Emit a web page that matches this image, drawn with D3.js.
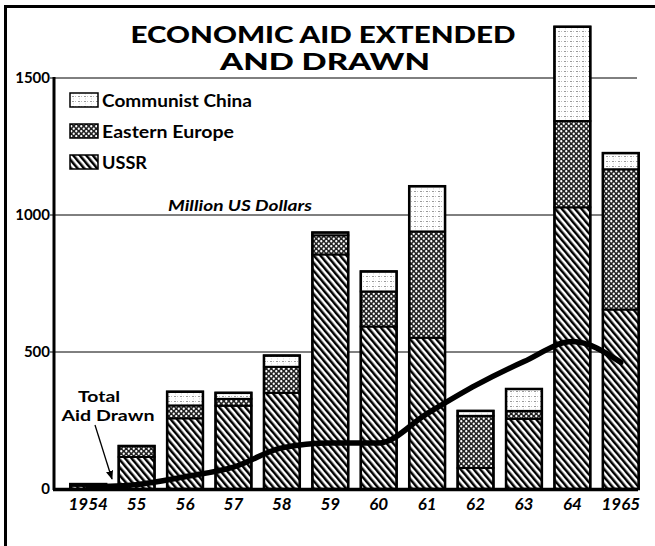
<!DOCTYPE html>
<html><head><meta charset="utf-8">
<script src="https://cdn.jsdelivr.net/npm/d3@7"></script>
<style>body{margin:0;background:#fff}svg{display:block}text{font-family:Lato,"DejaVu Sans",sans-serif}</style>
</head><body>
<script>
const years = ["1954","55","56","57","58","59","60","61","62","63","64","1965"];
const ussr = [12,117,258,304,351,856,593,552,77,256,1028,655];
const easternEurope = [6,40,47,25,95,70,128,388,190,29,315,512];
const communistChina = [0,0,50,22,41,10,73,165,18,80,344,59];
const aidDrawn = [8,16,45,80,150,168,168,275,378,465,538,462];
const yTicks = [0,500,1000,1500];
const legendLabels = ["Communist China","Eastern Europe","USSR"];

const W=655,H=546;
const svg=d3.select("body").append("svg").attr("width",W).attr("height",H);
const defs=svg.append("defs");
// USSR hatch
const ph=defs.append("pattern").attr("id","hatch").attr("patternUnits","userSpaceOnUse")
  .attr("width",5).attr("height",5).attr("patternTransform","rotate(-40)");
ph.append("rect").attr("width",5).attr("height",5).attr("fill","#fff");
ph.append("rect").attr("width",2.5).attr("height",5).attr("fill","#000");
// Eastern Europe dots
const pe=defs.append("pattern").attr("id","dots").attr("patternUnits","userSpaceOnUse")
  .attr("width",5).attr("height",5);
pe.append("rect").attr("width",5).attr("height",5).attr("fill","#222");
pe.append("circle").attr("cx",1.25).attr("cy",1.25).attr("r",1.15).attr("fill","#fff");
pe.append("circle").attr("cx",3.75).attr("cy",3.75).attr("r",1.15).attr("fill","#fff");
// China stipple
const pc=defs.append("pattern").attr("id","stip").attr("patternUnits","userSpaceOnUse")
  .attr("width",6).attr("height",5);
pc.append("rect").attr("width",6).attr("height",5).attr("fill","#fff");
pc.append("rect").attr("x",0).attr("y",1).attr("width",2).attr("height",1).attr("fill","#999");
pc.append("rect").attr("x",3).attr("y",1).attr("width",1).attr("height",1).attr("fill","#bbb");
pc.append("rect").attr("x",1).attr("y",3.5).attr("width",1).attr("height",0.8).attr("fill","#ccc");
const fills=["url(#hatch)","url(#dots)","url(#stip)"];

// frame
svg.append("line").attr("x1",5.5).attr("x2",5.5).attr("y1",5).attr("y2",H).attr("stroke","#000").attr("stroke-width",3);
svg.append("line").attr("x1",4).attr("x2",W).attr("y1",6.5).attr("y2",6.5).attr("stroke","#000").attr("stroke-width",3);

const x=d3.scaleBand().domain(years).range([64,645]).paddingInner(0.26).paddingOuter(0.13);
const y=d3.scaleLinear().domain([0,1500]).range([489,78]);

// grid
svg.append("g").selectAll("line").data(yTicks.filter(d=>d>0)).join("line")
  .attr("x1",50).attr("x2",637).attr("y1",d=>y(d)).attr("y2",d=>y(d)).attr("stroke","#000").attr("stroke-width",1);

// y labels
svg.append("g").selectAll("text").data(yTicks).join("text")
  .attr("x",50).attr("y",d=>y(d)+5).attr("text-anchor","end")
  .attr("font-size",15).attr("font-weight","bold").attr("font-family","'Liberation Sans Narrow','DejaVu Sans Condensed',sans-serif")
  .text(d=>d);

// stacked bars
const rows=years.map((yr,i)=>({year:yr,USSR:ussr[i],EE:easternEurope[i],CN:communistChina[i]}));
const stack=d3.stack().keys(["USSR","EE","CN"])(rows);
const g=svg.append("g");
stack.forEach((s,k)=>{
  g.append("g").selectAll("rect").data(s.filter(d=>d[1]-d[0]>0)).join("rect")
   .attr("x",d=>x(d.data.year)).attr("width",x.bandwidth())
   .attr("y",d=>y(d[1])).attr("height",d=>y(d[0])-y(d[1]))
   .attr("fill",fills[k]).attr("stroke","#000").attr("stroke-width",2);
});
// outer bar outline
g.append("g").selectAll("rect").data(rows).join("rect")
  .attr("x",d=>x(d.year)).attr("width",x.bandwidth())
  .attr("y",d=>y(d.USSR+d.EE+d.CN)).attr("height",d=>y(0)-y(d.USSR+d.EE+d.CN))
  .attr("fill","none").attr("stroke","#000").attr("stroke-width",2.5);

// axes
svg.append("line").attr("x1",54).attr("x2",54).attr("y1",77).attr("y2",490).attr("stroke","#000").attr("stroke-width",3);
svg.append("line").attr("x1",53).attr("x2",638).attr("y1",489.5).attr("y2",489.5).attr("stroke","#000").attr("stroke-width",3.5);

// x labels
svg.append("g").selectAll("text").data(years).join("text")
  .attr("x",d=>x(d)+x.bandwidth()/2).attr("y",510).attr("text-anchor","middle")
  .attr("font-size",17).attr("font-weight","bold").attr("font-style","italic")
  .text(d=>d);

// aid drawn line
const line=d3.line().x((d,i)=>x(years[i])+x.bandwidth()/2).y(d=>y(d)).curve(d3.curveMonotoneX);
svg.append("path").datum(aidDrawn).attr("d",line).attr("fill","none").attr("stroke","#000").attr("stroke-width",5.5).attr("stroke-linecap","round");

// title
svg.append("text").attr("x",323).attr("y",43).attr("text-anchor","middle").attr("font-size",23).attr("font-weight",900)
  .attr("textLength",385).attr("lengthAdjust","spacingAndGlyphs").text("ECONOMIC AID EXTENDED");
svg.append("text").attr("x",325).attr("y",70).attr("text-anchor","middle").attr("font-size",23).attr("font-weight",900)
  .attr("textLength",210).attr("lengthAdjust","spacingAndGlyphs").text("AND DRAWN");

// legend
const lf=[fills[2],fills[1],fills[0]];
const lw=[150,132,45];
legendLabels.forEach((t,i)=>{
  const yy=93+i*31;
  svg.append("rect").attr("x",70).attr("y",yy).attr("width",28).attr("height",14).attr("fill",lf[i]).attr("stroke","#000").attr("stroke-width",1.5);
  svg.append("text").attr("x",102).attr("y",yy+14).attr("font-size",16.5).attr("font-weight","bold")
    .attr("textLength",lw[i]).attr("lengthAdjust","spacingAndGlyphs").text(t);
});

// units
svg.append("text").attr("x",168).attr("y",211).attr("font-size",14.5).attr("font-weight","bold").attr("font-style","italic")
  .attr("textLength",144).attr("lengthAdjust","spacingAndGlyphs").text("Million US Dollars");

// annotation
svg.append("text").attr("x",99).attr("y",402).attr("text-anchor","middle").attr("font-size",15.5).attr("font-weight","bold")
  .attr("textLength",42).attr("lengthAdjust","spacingAndGlyphs").text("Total");
svg.append("text").attr("x",108).attr("y",421).attr("text-anchor","middle").attr("font-size",15.5).attr("font-weight","bold")
  .attr("textLength",93).attr("lengthAdjust","spacingAndGlyphs").text("Aid Drawn");
defs.append("marker").attr("id","arr").attr("viewBox","0 0 10 10").attr("refX",9).attr("refY",5)
  .attr("markerWidth",7).attr("markerHeight",7).attr("orient","auto")
  .append("path").attr("d","M0,1 L10,5 L0,9 Z").attr("fill","#000");
svg.append("line").attr("x1",95).attr("y1",425).attr("x2",112).attr("y2",479)
  .attr("stroke","#000").attr("stroke-width",1.3).attr("marker-end","url(#arr)");
</script>
</body></html>
